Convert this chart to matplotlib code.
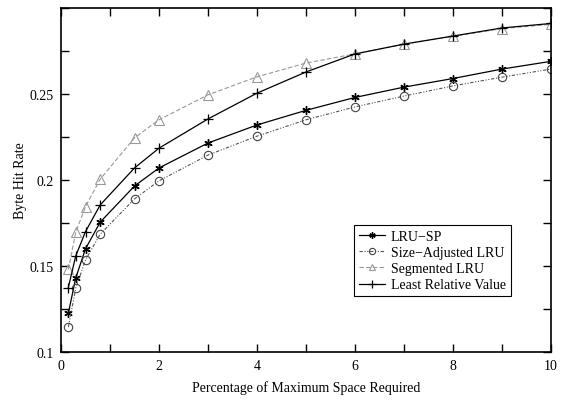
import numpy as np
import matplotlib
matplotlib.use("Agg")
import matplotlib.pyplot as plt

# percentage of maximum space required
x_pct = [0.15, 0.3, 0.5, 0.8, 1.5, 2, 3, 4, 5, 6, 7, 8, 9, 10]

lru_sp = [0.1225, 0.143, 0.160, 0.1755, 0.1965, 0.207, 0.2215, 0.232, 0.2405,
          0.248, 0.254, 0.259, 0.2645, 0.269]
size_adj_lru = [0.1145, 0.137, 0.1535, 0.1685, 0.189, 0.1995, 0.2145, 0.2255, 0.235,
                0.2425, 0.2488, 0.2547, 0.2598, 0.2645]
segmented_lru = [0.148, 0.1695, 0.1845, 0.2005, 0.2245, 0.235, 0.2495, 0.26, 0.268,
                 0.2733, 0.279, 0.2835, 0.288, 0.2905]
lrv = [0.1375, 0.1558, 0.170, 0.1855, 0.207, 0.2185, 0.2355, 0.2505, 0.2628,
       0.2733, 0.279, 0.2837, 0.2884, 0.291]

plt.rcParams['font.family'] = ['Liberation Serif', 'DejaVu Serif']

fig = plt.figure(figsize=(5.62, 4.02), dpi=100)
ax = fig.add_axes([61 / 562, 49 / 402, 490 / 562, 344 / 402])

ax.plot(x_pct, lru_sp, color='black', lw=0.9, marker=(6, 2, 0), ms=6,
        mew=1.0, label='LRU\u2212SP')
ax.plot(x_pct, size_adj_lru, color='#555555', lw=0.8, ls=(0, (3, 1.5, 1, 1.5, 1, 1.5)),
        marker='o', ms=6, mfc='none', mec='#444444', mew=0.8,
        label='Size\u2212Adjusted LRU')
ax.plot(x_pct, segmented_lru, color='#999999', lw=0.8, ls=(0, (4, 2)),
        marker='^', ms=6.5, mfc='none', mec='#999999', mew=0.8,
        label='Segmented LRU')
ax.plot(x_pct, lrv, color='black', lw=0.9, marker='+', ms=7.5, mew=0.9,
        label='Least Relative Value')

ax.set_xlim(0, 10)
ax.set_ylim(0.1, 0.3)
ax.set_xticks([0, 2, 4, 6, 8, 10])
ax.set_xticks([1, 3, 5, 7, 9], minor=True)
ax.set_yticks([0.1, 0.15, 0.2, 0.25, 0.3])
ax.set_yticklabels(['0.1', '0.15', '0.2', '0.25', ''])
ax.set_yticks([0.125, 0.175, 0.225, 0.275], minor=True)
ax.tick_params(which='both', direction='in', top=True, right=True,
               labelsize=10, width=1.0)
ax.tick_params(which='major', length=6, pad=5)
ax.tick_params(which='minor', length=6)
for s in ax.spines.values():
    s.set_linewidth(1.2)

ax.set_xlabel('Percentage of Maximum Space Required', fontsize=10, labelpad=6)
ax.set_ylabel('Byte Hit Rate', fontsize=10, labelpad=2)

leg = ax.legend(loc='lower right', bbox_to_anchor=(0.918, 0.162), fontsize=10,
                handlelength=1.9, handletextpad=0.4, borderpad=0.35,
                labelspacing=0.22, borderaxespad=0, fancybox=False,
                framealpha=1, edgecolor='black', markerscale=0.75)
leg.get_frame().set_linewidth(0.8)

fig.savefig('out.png', dpi=100)
